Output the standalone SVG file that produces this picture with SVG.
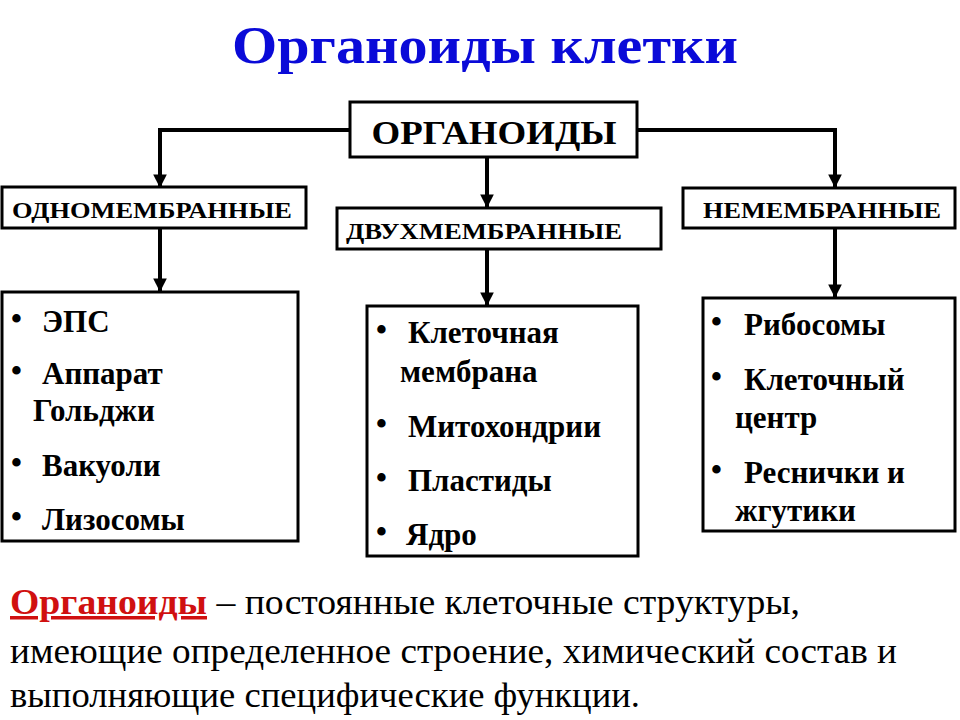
<svg xmlns="http://www.w3.org/2000/svg" width="960" height="720" viewBox="0 0 960 720">
<defs>
<style>
.box{fill:#fff;stroke:#000;stroke-width:3}
.hd{font-family:"Liberation Serif","Times New Roman",serif;font-weight:bold;fill:#000}
.it{font-family:"Liberation Serif","Times New Roman",serif;font-weight:bold;font-size:31px;fill:#000}
.bt{font-family:"Liberation Serif","Times New Roman",serif;font-size:35px;fill:#000}
.con{fill:none;stroke:#000;stroke-width:4}
</style>
<marker id="arr" viewBox="0 0 10 10" refX="10" refY="5" markerWidth="3.4" markerHeight="3.6" markerUnits="strokeWidth" orient="auto">
<path d="M0,0 L10,5 L0,10 Z" fill="#000"/>
</marker>
</defs>
<rect width="960" height="720" fill="#fff"/>
<text x="485" y="63" text-anchor="middle" font-family="Liberation Serif, Times New Roman, serif" font-weight="bold" font-size="53" fill="#0a0ad8" textLength="506" lengthAdjust="spacingAndGlyphs">Органоиды клетки</text>

<g id="connectors">
<path class="con" d="M350,130 H160 V188" marker-end="url(#arr)"/>
<path class="con" d="M637,130 H835 V188" marker-end="url(#arr)"/>
<path class="con" d="M487,157 V208" marker-end="url(#arr)"/>
<path class="con" d="M160,228 V292" marker-end="url(#arr)"/>
<path class="con" d="M487,249 V306" marker-end="url(#arr)"/>
<path class="con" d="M835,228 V298" marker-end="url(#arr)"/>
</g>

<g id="root">
<rect class="box" x="350" y="102" width="287" height="55"/>
<text class="hd" x="494" y="144" text-anchor="middle" font-size="34" textLength="245" lengthAdjust="spacingAndGlyphs">ОРГАНОИДЫ</text>
</g>
<g id="one">
<rect class="box" x="2" y="187" width="304" height="41"/>
<text class="hd" x="152" y="218" text-anchor="middle" font-size="23" textLength="280" lengthAdjust="spacingAndGlyphs">ОДНОМЕМБРАННЫЕ</text>
</g>
<g id="two">
<rect class="box" x="337" y="208" width="324" height="41"/>
<text class="hd" x="346" y="239" font-size="23" textLength="276" lengthAdjust="spacingAndGlyphs">ДВУХМЕМБРАННЫЕ</text>
</g>
<g id="non">
<rect class="box" x="683" y="188" width="272" height="40"/>
<text class="hd" x="822" y="218" text-anchor="middle" font-size="23" textLength="238" lengthAdjust="spacingAndGlyphs">НЕМЕМБРАННЫЕ</text>
</g>

<g id="list-one">
<rect class="box" x="2" y="292" width="296" height="249"/>
<text class="it" x="11" y="329">•</text><text class="it" x="42" y="332">ЭПС</text>
<text class="it" x="11" y="381">•</text><text class="it" x="42" y="384">Аппарат</text>
<text class="it" x="33" y="421">Гольджи</text>
<text class="it" x="11" y="473">•</text><text class="it" x="42" y="476">Вакуоли</text>
<text class="it" x="11" y="527">•</text><text class="it" x="42" y="530">Лизосомы</text>
</g>
<g id="list-two">
<rect class="box" x="367" y="306" width="271" height="250"/>
<text class="it" x="376" y="340">•</text><text class="it" x="408" y="343">Клеточная</text>
<text class="it" x="400" y="382">мембрана</text>
<text class="it" x="376" y="434">•</text><text class="it" x="408" y="437">Митохондрии</text>
<text class="it" x="376" y="488">•</text><text class="it" x="408" y="491">Пластиды</text>
<text class="it" x="376" y="542">•</text><text class="it" x="406" y="545">Ядро</text>
</g>
<g id="list-non">
<rect class="box" x="703" y="298" width="252" height="233"/>
<text class="it" x="711" y="332">•</text><text class="it" x="744" y="335">Рибосомы</text>
<text class="it" x="711" y="387">•</text><text class="it" x="744" y="390">Клеточный</text>
<text class="it" x="735" y="428">центр</text>
<text class="it" x="711" y="480">•</text><text class="it" x="744" y="483">Реснички и</text>
<text class="it" x="735" y="521">жгутики</text>
</g>

<g id="definition">
<text class="bt" x="10" y="614" textLength="790" lengthAdjust="spacingAndGlyphs"><tspan fill="#d01010" font-weight="bold" text-decoration="underline">Органоиды</tspan> – постоянные клеточные структуры,</text>
<text class="bt" x="10" y="663" textLength="887" lengthAdjust="spacingAndGlyphs">имеющие определенное строение, химический состав и</text>
<text class="bt" x="10" y="707" textLength="630" lengthAdjust="spacingAndGlyphs">выполняющие специфические функции.</text>
</g>
</svg>
